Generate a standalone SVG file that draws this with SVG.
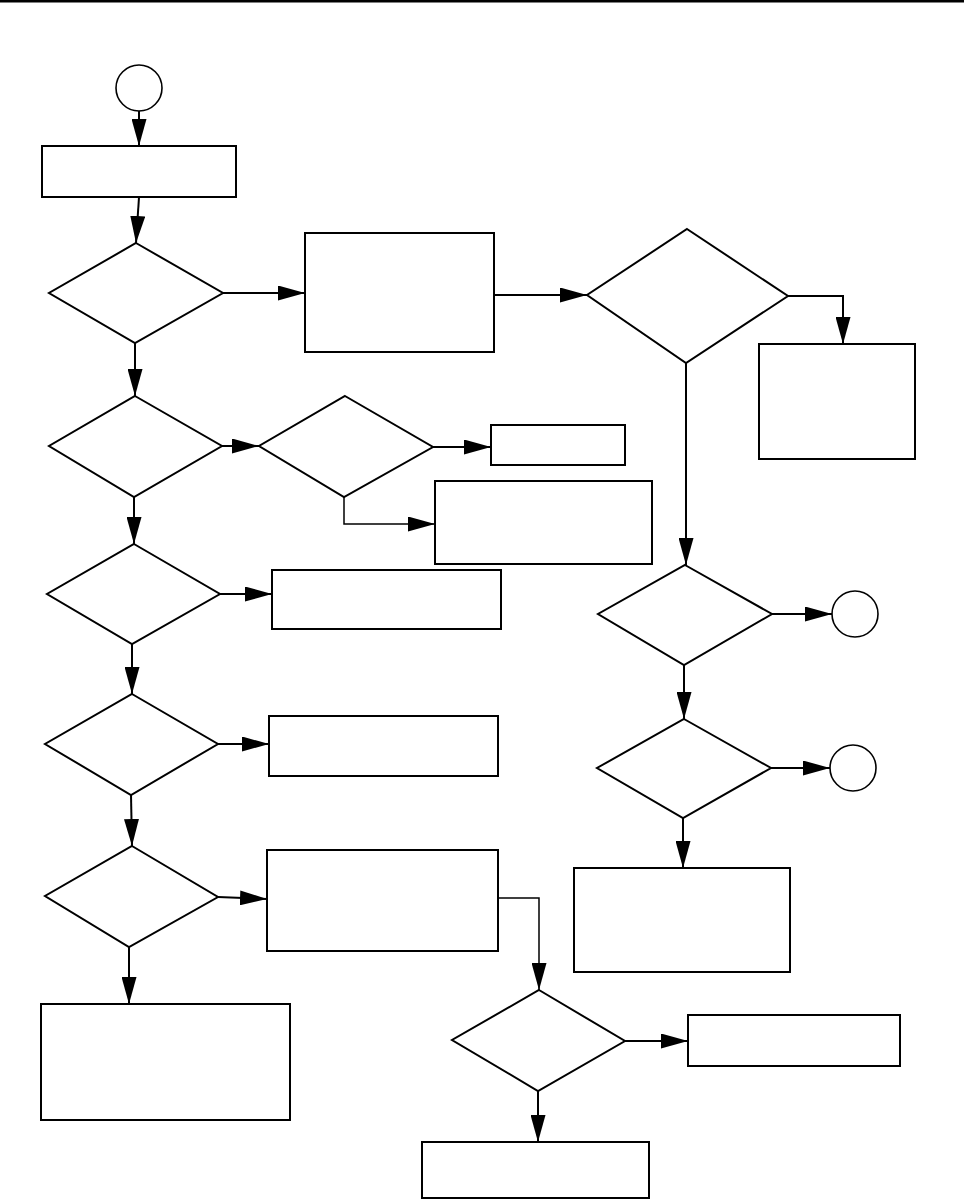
<svg xmlns="http://www.w3.org/2000/svg" width="964" height="1200" viewBox="0 0 964 1200">
<style>
.n{fill:#fff;stroke:#000;stroke-width:2}
.c{fill:#fff;stroke:#000;stroke-width:1.6}
.e{fill:none;stroke:#000;stroke-width:2;marker-end:url(#ah)}
.t{fill:none;stroke:#000;stroke-width:1.5;marker-end:url(#ah)}
</style>
<defs>
<marker id="ah" markerUnits="userSpaceOnUse" markerWidth="27" markerHeight="15" refX="27" refY="7.5" orient="auto">
<path d="M0,0 L27,7.5 L0,15 Z" fill="#000"/>
</marker>
</defs>
<rect x="0" y="0" width="964" height="2.5" fill="#000"/>
<g id="connectors">
<path class="e" d="M139,111 L139,146"/>
<path class="e" d="M139,197 L136,243"/>
<path class="e" d="M223,293 L305,293"/>
<path class="e" d="M494,295 L587,295"/>
<path class="e" d="M788,296 L843,296 L843,344"/>
<path class="e" d="M686,363 L686,565"/>
<path class="e" d="M772,614 L832,614"/>
<path class="e" d="M684,665 L684,719"/>
<path class="e" d="M771,768 L830,768"/>
<path class="e" d="M683,818 L683,868"/>
<path class="e" d="M135,343 L135,396"/>
<path class="e" d="M222,446 L259,446"/>
<path class="e" d="M433,447 L491,447"/>
<path class="t" d="M344,497 L344,524 L435,524"/>
<path class="e" d="M134,497 L134,544"/>
<path class="e" d="M220,594 L272,594"/>
<path class="e" d="M132,644 L132,694"/>
<path class="e" d="M218,744 L269,744"/>
<path class="e" d="M131,795 L132,846"/>
<path class="e" d="M218,897 L267,899"/>
<path class="t" d="M498,898 L539,898 L539,990"/>
<path class="e" d="M129,947 L129,1004"/>
<path class="e" d="M625,1041 L688,1041"/>
<path class="e" d="M538,1091 L538,1142"/>
</g>
<g id="start"><circle class="c" cx="139" cy="88" r="23"/></g>
<g id="box1"><rect class="n" x="42" y="146" width="194" height="51"/></g>
<g id="d1"><polygon class="n" points="136,243 223,293 135,343 49,293"/></g>
<g id="box2"><rect class="n" x="305" y="233" width="189" height="119"/></g>
<g id="dr1"><polygon class="n" points="687,229 788,296 686,363 587,295"/></g>
<g id="boxr1"><rect class="n" x="759" y="344" width="156" height="115"/></g>
<g id="dr2"><polygon class="n" points="685,565 772,614 684,665 598,614"/></g>
<g id="cr2"><circle class="c" cx="855" cy="614" r="23"/></g>
<g id="dr3"><polygon class="n" points="684,719 771,768 683,818 597,768"/></g>
<g id="cr3"><circle class="c" cx="853" cy="768" r="23"/></g>
<g id="boxr4"><rect class="n" x="574" y="868" width="216" height="104"/></g>
<g id="d2"><polygon class="n" points="135,396 222,446 134,497 49,446"/></g>
<g id="d2b"><polygon class="n" points="345,396 433,447 344,497 259,446"/></g>
<g id="boxsmall"><rect class="n" x="491" y="425" width="134" height="40"/></g>
<g id="boxb"><rect class="n" x="435" y="481" width="217" height="83"/></g>
<g id="d3"><polygon class="n" points="134,544 220,594 132,644 47,594"/></g>
<g id="boxc"><rect class="n" x="272" y="570" width="229" height="59"/></g>
<g id="d4"><polygon class="n" points="132,694 218,744 131,795 45,744"/></g>
<g id="boxd"><rect class="n" x="269" y="716" width="229" height="60"/></g>
<g id="d5"><polygon class="n" points="132,846 218,897 129,947 45,896"/></g>
<g id="boxe"><rect class="n" x="267" y="850" width="231" height="101"/></g>
<g id="boxf"><rect class="n" x="41" y="1004" width="249" height="116"/></g>
<g id="d6"><polygon class="n" points="539,990 625,1041 538,1091 452,1040"/></g>
<g id="boxg"><rect class="n" x="688" y="1015" width="212" height="51"/></g>
<g id="boxh"><rect class="n" x="422" y="1142" width="227" height="56"/></g>
</svg>
